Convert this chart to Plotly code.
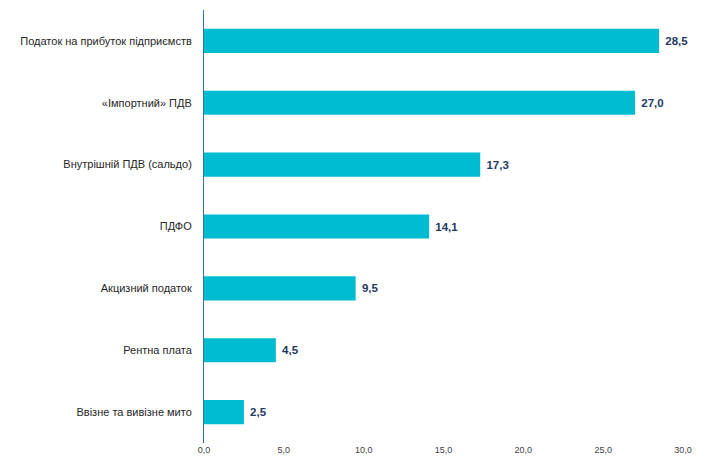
import plotly.graph_objects as go

categories = ["Податок на прибуток підприємств", "«Імпортний» ПДВ", "Внутрішній ПДВ (сальдо)",
              "ПДФО", "Акцизний податок", "Рентна плата", "Ввізне та вивізне мито"]
values = [28.5, 27.0, 17.3, 14.1, 9.5, 4.5, 2.5]

fig = go.Figure(go.Bar(
    x=values, y=categories, orientation="h",
    marker=dict(color="#00BCD0", line=dict(width=0)),
    width=0.39,
    text=[" " + f"{v:.1f}".replace(".", ",") for v in values],
    textposition="outside", cliponaxis=False,
    textfont=dict(family="Liberation Sans, Arial", size=11.5, color="#1F3864", weight="bold"),
))
fig.update_layout(
    width=702, height=459,
    margin=dict(l=204, r=19, t=10, b=16),
    plot_bgcolor="white", paper_bgcolor="white",
    separators=", ",
    showlegend=False,
    font=dict(family="Liberation Sans, Arial", size=11, color="#222222"),
)
fig.update_xaxes(range=[0, 30], dtick=5, tickformat=".1f", showgrid=False, zeroline=False,
                 showline=False, tickfont=dict(size=9, color="#404040"), ticks="", ticklen=0,
                 automargin=False)
fig.update_yaxes(autorange="reversed", showgrid=False, showline=True, linecolor="#3A6E9E",
                 linewidth=1, ticks="", ticklabelstandoff=9, automargin=False,
                 tickfont=dict(size=11, color="#262626"))
fig.write_html("out.html", config={"displayModeBar": False},
               post_script="document.body.style.margin='0';document.body.style.overflow='hidden';")
